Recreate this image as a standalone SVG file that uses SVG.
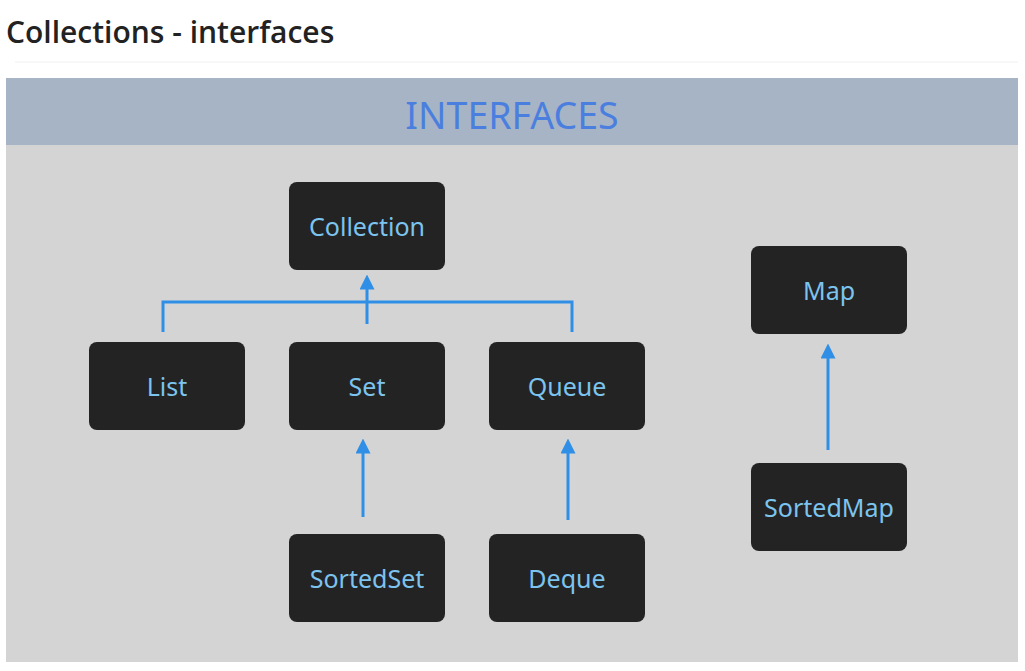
<svg xmlns="http://www.w3.org/2000/svg" width="1025" height="671" viewBox="0 0 1025 671">
<style>
.node rect{fill:#232323;}
.node text{fill:#7cc4ee;font-family:"Noto Sans","Open Sans",sans-serif;font-size:25px;text-anchor:middle;}
.conn{stroke:#2f8fe6;stroke-width:3;fill:none;}
</style>
<defs>
<marker id="ah" viewBox="0 0 10 10" refX="5" refY="5" markerWidth="5" markerHeight="5" orient="auto-start-reverse" markerUnits="strokeWidth">
<path d="M0,0 L10,5 L0,10 z" fill="#2f8fe6"/>
</marker>
</defs>
<rect width="1025" height="671" fill="#ffffff"/>
<text x="6" y="43" font-family="Open Sans, sans-serif" font-size="30" font-weight="600" fill="#222222">Collections - interfaces</text>
<line x1="15" y1="62" x2="1018" y2="62" stroke="#f0f0f0" stroke-width="1"/>
<rect x="6" y="78" width="1012" height="584" fill="#d4d4d4"/>
<rect x="6" y="78" width="1012" height="67" fill="#a6b4c6"/>
<text x="512" y="129" font-family="Noto Sans, Open Sans, sans-serif" font-size="37.5" fill="#4b7fdf" text-anchor="middle">INTERFACES</text>
<g id="connectors">
<polyline class="conn" points="163,332 163,302 572,302 572,332"/>
<line class="conn" x1="367" y1="324" x2="367" y2="282" marker-end="url(#ah)"/>
<line class="conn" x1="363" y1="517" x2="363" y2="446" marker-end="url(#ah)"/>
<line class="conn" x1="568" y1="520" x2="568" y2="446" marker-end="url(#ah)"/>
<line class="conn" x1="828" y1="450" x2="828" y2="351" marker-end="url(#ah)"/>
</g>
<g id="collection" class="node"><rect x="289" y="182" width="156" height="88" rx="8"/><text x="367" y="236">Collection</text></g>
<g id="list" class="node"><rect x="89" y="342" width="156" height="88" rx="8"/><text x="167" y="396">List</text></g>
<g id="set" class="node"><rect x="289" y="342" width="156" height="88" rx="8"/><text x="367" y="396">Set</text></g>
<g id="queue" class="node"><rect x="489" y="342" width="156" height="88" rx="8"/><text x="567" y="396">Queue</text></g>
<g id="sortedset" class="node"><rect x="289" y="534" width="156" height="88" rx="8"/><text x="367" y="588">SortedSet</text></g>
<g id="deque" class="node"><rect x="489" y="534" width="156" height="88" rx="8"/><text x="567" y="588">Deque</text></g>
<g id="map" class="node"><rect x="751" y="246" width="156" height="88" rx="8"/><text x="829" y="300">Map</text></g>
<g id="sortedmap" class="node"><rect x="751" y="463" width="156" height="88" rx="8"/><text x="829" y="517">SortedMap</text></g>
</svg>
